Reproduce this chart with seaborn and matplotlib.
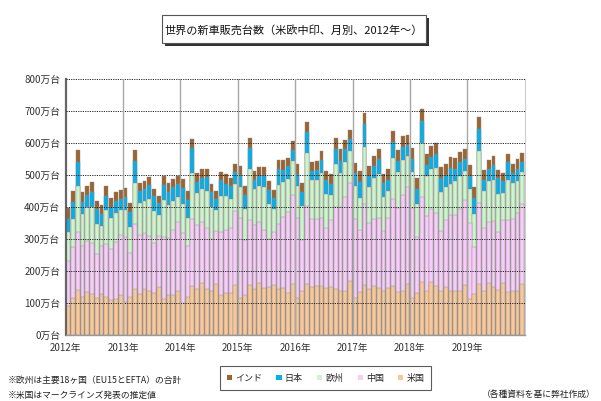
import numpy as np
import pandas as pd
import seaborn as sns
import matplotlib.pyplot as plt
from matplotlib.patches import Rectangle, Patch

# ---- data (万台), monthly Jan 2012 - Dec 2019 ----
years = ["2012年", "2013年", "2014年", "2015年", "2016年", "2017年", "2018年", "2019年"]

us = [91, 115, 140, 118, 133, 128, 115, 128, 119, 109, 114, 126,
      104, 119, 145, 129, 145, 137, 131, 150, 114, 124, 125, 139,
      101, 119, 154, 144, 161, 144, 139, 159, 126, 130, 130, 155,
      115, 126, 157, 144, 163, 148, 150, 157, 144, 146, 132, 159,
      115, 139, 159, 150, 154, 152, 148, 151, 144, 137, 138, 169,
      115, 134, 155, 143, 153, 147, 137, 148, 153, 135, 139, 158,
      117, 132, 165, 139, 165, 153, 137, 150, 136, 138, 139, 155,
      114, 128, 160, 136, 163, 151, 141, 163, 133, 136, 136, 158]

china = [140, 159, 183, 160, 160, 158, 137, 149, 165, 160, 177, 186,
         203, 138, 203, 182, 175, 171, 158, 160, 192, 178, 203, 215,
         219, 158, 210, 201, 191, 190, 160, 167, 196, 199, 204, 232,
         251, 172, 202, 199, 191, 180, 150, 166, 202, 222, 251, 279,
         251, 159, 244, 212, 209, 213, 185, 208, 257, 262, 294, 306,
         247, 194, 254, 208, 210, 219, 188, 219, 271, 263, 297, 306,
         281, 173, 265, 232, 229, 227, 189, 210, 239, 238, 255, 266,
         237, 148, 252, 198, 191, 206, 181, 196, 227, 228, 245, 250]

europe = [90, 90, 143, 100, 108, 114, 96, 65, 108, 96, 90, 78,
          85, 80, 128, 103, 100, 118, 97, 64, 115, 104, 90, 78,
          90, 90, 142, 100, 105, 117, 102, 66, 113, 104, 92, 85,
          95, 95, 160, 113, 112, 133, 108, 72, 124, 110, 104, 105,
          100, 104, 166, 121, 121, 141, 108, 79, 133, 108, 108, 100,
          105, 101, 180, 112, 128, 137, 107, 82, 128, 110, 111, 95,
          111, 104, 170, 126, 125, 141, 121, 104, 98, 104, 103, 93,
          105, 102, 163, 116, 128, 128, 120, 85, 123, 112, 100, 100]

japan = [42, 52, 75, 38, 37, 48, 47, 37, 42, 35, 39, 35,
         38, 46, 68, 35, 36, 44, 47, 37, 49, 41, 44, 39,
         49, 55, 77, 34, 35, 44, 47, 33, 48, 40, 40, 37,
         40, 46, 66, 29, 31, 40, 45, 33, 48, 38, 40, 35,
         38, 44, 65, 30, 32, 42, 43, 34, 48, 38, 42, 38,
         40, 50, 69, 34, 36, 46, 43, 35, 51, 36, 42, 36,
         40, 48, 68, 33, 36, 46, 44, 37, 48, 40, 45, 37,
         42, 50, 70, 35, 37, 46, 49, 38, 58, 29, 39, 34]

india = [33, 35, 37, 30, 29, 29, 25, 26, 31, 29, 28, 28,
         30, 29, 33, 26, 25, 24, 23, 23, 26, 29, 25, 26,
         27, 27, 30, 26, 26, 25, 24, 24, 27, 30, 25, 26,
         28, 28, 32, 27, 27, 25, 27, 26, 28, 32, 27, 27,
         30, 30, 33, 28, 28, 27, 29, 30, 33, 36, 28, 28,
         32, 32, 35, 31, 32, 31, 28, 34, 36, 34, 32, 30,
         36, 35, 38, 35, 36, 32, 33, 34, 34, 33, 31, 30,
         34, 33, 35, 30, 29, 27, 24, 23, 26, 30, 30, 28]

series_names = ["インド", "日本", "欧州", "中国", "米国"]
colors = {"米国": "#FAC898", "中国": "#F8CCF8", "欧州": "#CCF5CC",
          "日本": "#0AAEE6", "インド": "#9C6530"}

df = pd.DataFrame({"month": np.arange(len(us)), "米国": us, "中国": china,
                   "欧州": europe, "日本": japan, "インド": india})
stack_order = ["米国", "中国", "欧州", "日本", "インド"]
cum = df[stack_order].cumsum(axis=1)

# ---- figure ----
sns.set_theme(style="white")
plt.rcParams["font.family"] = ["Noto Sans CJK JP", "DejaVu Sans"]

W, H = 601, 401
fig = plt.figure(figsize=(W / 100, H / 100), dpi=100)
ax = fig.add_axes([65.7 / W, 1 - 335 / H, (524.6 - 65.7) / W, 256 / H])

for name in reversed(stack_order):
    sns.barplot(x=df["month"], y=cum[name], color=colors[name], saturation=1,
                width=0.8, errorbar=None, ax=ax, edgecolor="#8a8a8a",
                linewidth=0.3, zorder=2)

ax.set_xlim(-0.5, len(us) - 0.5)
ax.set_ylim(0, 800)
ax.set_xlabel("")
ax.set_ylabel("")

yt = np.arange(0, 801, 100)
ax.set_yticks(yt)
ax.set_yticklabels([f"{v}万台" for v in yt], fontsize=7, color="#333333")
ax.set_xticks(np.arange(-0.5, len(us) - 0.5, 12))
ax.set_xticklabels(years, fontsize=7, color="#333333")
ax.tick_params(axis="both", length=0, pad=4)
ax.tick_params(axis="x", pad=6)

for v in yt[1:]:
    ax.axhline(v, color="#222222", lw=0.7, ls=(0, (1.2, 1.2)), zorder=3)
for xv in np.arange(11.5, len(us) - 0.5, 12):
    ax.axvline(xv, color="#a8a8a8", lw=1.0, zorder=3)

ax.spines["top"].set_visible(False)
ax.spines["left"].set_color("#666666")
ax.spines["left"].set_linewidth(1.6)
ax.spines["bottom"].set_color("#999999")
ax.spines["bottom"].set_linewidth(1.0)
ax.spines["right"].set_color("#cccccc")
ax.spines["right"].set_linewidth(0.8)

# ---- title box with shadow ----
bx0, bx1, by0, by1 = 162, 426, 15, 43
fig.patches.append(Rectangle(((bx0 + 3) / W, 1 - (by1 + 3) / H), (bx1 - bx0) / W,
                             (by1 - by0) / H, transform=fig.transFigure,
                             facecolor="#333333", edgecolor="none", zorder=1))
fig.patches.append(Rectangle((bx0 / W, 1 - by1 / H), (bx1 - bx0) / W,
                             (by1 - by0) / H, transform=fig.transFigure,
                             facecolor="white", edgecolor="#555555", lw=0.8, zorder=2))
fig.text((bx0 + bx1) / 2 / W, 1 - 30 / H,
         "世界の新車販売台数（米欧中印、月別、2012年～）",
         ha="center", va="center", fontsize=8, color="#111111", zorder=3)

# ---- legend ----
handles = [Patch(facecolor=colors[n], edgecolor="none", label=n) for n in series_names]
leg = fig.legend(handles=handles, loc="center", ncol=5,
                 bbox_to_anchor=(325.5 / W, 1 - 378 / H), fontsize=6.5,
                 frameon=True, fancybox=False, edgecolor="#333333",
                 handlelength=0.6, handleheight=0.6, handletextpad=0.3,
                 columnspacing=1.6, borderpad=0.8)
leg.get_frame().set_linewidth(0.8)

# ---- footnotes ----
fig.text(8 / W, 1 - 380 / H, "※欧州は主要18ヶ国（EU15とEFTA）の合計",
         ha="left", va="center", fontsize=6.3, color="#222222")
fig.text(8 / W, 1 - 395 / H, "※米国はマークラインズ発表の推定値",
         ha="left", va="center", fontsize=6.3, color="#222222")
fig.text(596 / W, 1 - 394 / H, "（各種資料を基に弊社作成）",
         ha="right", va="center", fontsize=6.3, color="#222222")

fig.savefig("out.png", dpi=100)
